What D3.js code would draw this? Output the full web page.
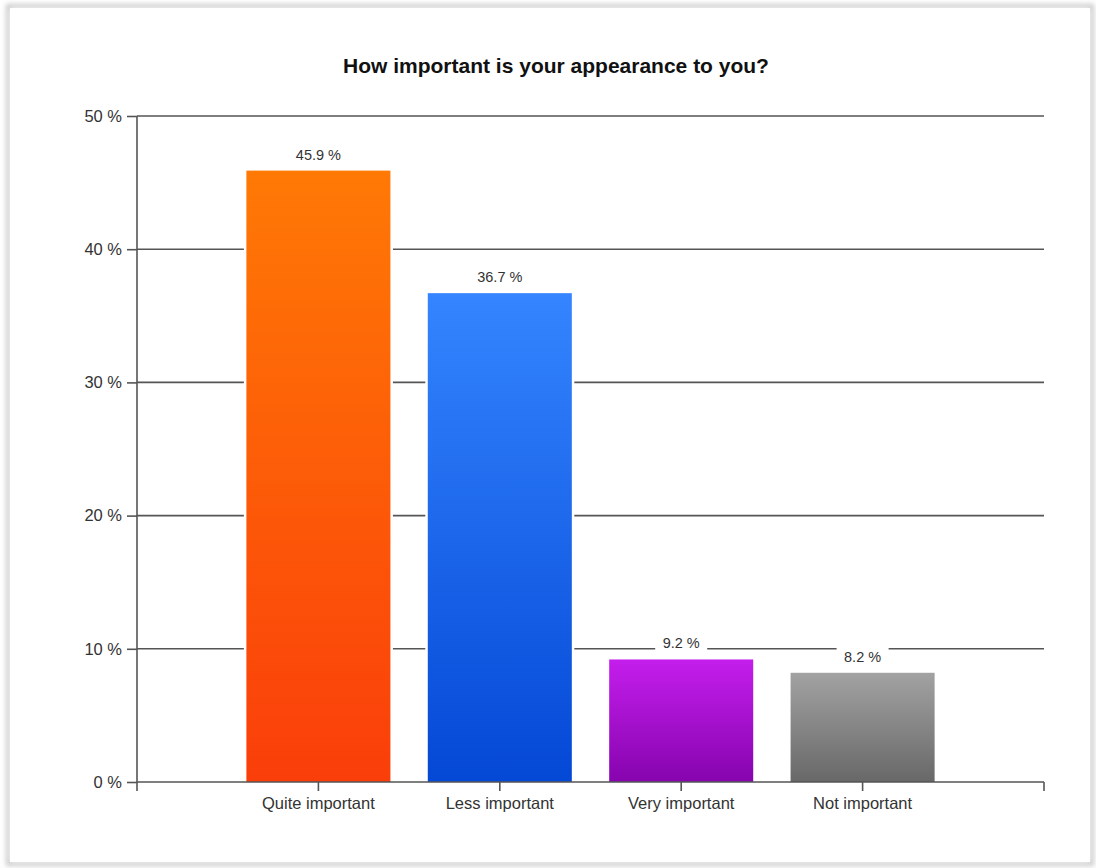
<!DOCTYPE html>
<html>
<head>
<meta charset="utf-8">
<script src="https://cdn.jsdelivr.net/npm/d3@7"></script>
<style>
  html, body { margin: 0; padding: 0; background: #ffffff; }
  svg { display: block; }
  text { font-family: "Liberation Sans", Arial, sans-serif; }
</style>
</head>
<body>
<svg id="chart" width="1096" height="868"></svg>
<script>
// Survey answers and their shares in percent
const categories = ["Quite important", "Less important", "Very important", "Not important"];
const values = [45.9, 36.7, 9.2, 8.2];
const yTicks = [0, 10, 20, 30, 40, 50];
const title = "How important is your appearance to you?";
// gradient stops per bar: [top, bottom]
const barColors = [
  ["#ff7905", "#fa3e0a"],
  ["#3485ff", "#0448d6"],
  ["#c41eec", "#8604ae"],
  ["#a2a2a2", "#686868"]
];

const svg = d3.select("#chart");

// card frame with soft edge shadow
const defs = svg.append("defs");
const sh = defs.append("filter").attr("id", "cardShadow")
  .attr("x", "-5%").attr("y", "-5%").attr("width", "110%").attr("height", "110%");
sh.append("feGaussianBlur").attr("in", "SourceGraphic").attr("stdDeviation", 2.5);

svg.append("rect").attr("x", 8).attr("y", 6).attr("width", 1084).attr("height", 858)
  .attr("fill", "none").attr("stroke", "#c8c8c8").attr("stroke-width", 4)
  .attr("filter", "url(#cardShadow)");
svg.append("rect").attr("x", 10).attr("y", 8).attr("width", 1080).attr("height", 854)
  .attr("fill", "#ffffff");

const plotLeft = 137, plotRight = 1044, plotTop = 116, plotBottom = 782;

const x = d3.scaleBand()
  .domain(categories)
  .range([plotLeft + (plotRight - plotLeft) / 10, plotRight - (plotRight - plotLeft) / 10])
  .paddingInner(0.206)
  .paddingOuter(0.103);

const y = d3.scaleLinear().domain([0, 50]).range([plotBottom, plotTop]);

// gradients
barColors.forEach((c, i) => {
  const g = defs.append("linearGradient").attr("id", "barGrad" + i)
    .attr("x1", 0).attr("y1", 0).attr("x2", 0).attr("y2", 1);
  g.append("stop").attr("offset", "0%").attr("stop-color", c[0]);
  g.append("stop").attr("offset", "100%").attr("stop-color", c[1]);
});

// title
svg.append("text")
  .attr("x", 556).attr("y", 73)
  .attr("text-anchor", "middle")
  .attr("font-size", 21).attr("font-weight", "bold").attr("fill", "#111")
  .text(title);

// horizontal gridlines
svg.append("g").selectAll("line").data(yTicks.filter(d => d > 0)).join("line")
  .attr("x1", plotLeft).attr("x2", plotRight)
  .attr("y1", d => y(d)).attr("y2", d => y(d))
  .attr("stroke", "#555").attr("stroke-width", 1.6);

// y axis
const yAxis = d3.axisLeft(y).tickValues(yTicks).tickSize(10).tickPadding(5)
  .tickFormat(d => d + " %");
const gy = svg.append("g").attr("transform", `translate(${plotLeft},0)`).call(yAxis);
gy.select(".domain").remove();
gy.selectAll(".tick line").attr("stroke", "#555").attr("stroke-width", 1.6);
gy.selectAll(".tick text").attr("font-size", 16.5).attr("fill", "#333")
  .attr("font-family", "'Liberation Sans', Arial, sans-serif");
svg.append("line").attr("x1", plotLeft).attr("x2", plotLeft).attr("y1", plotTop).attr("y2", plotBottom + 9)
  .attr("stroke", "#555").attr("stroke-width", 1.6);

// bars: white halo first so it cuts the gridlines, then the gradient fill
svg.append("g").selectAll("rect").data(categories).join("rect")
  .attr("x", d => x(d))
  .attr("y", (d, i) => y(values[i]))
  .attr("width", x.bandwidth())
  .attr("height", (d, i) => y(0) - y(values[i]))
  .attr("fill", "#ffffff")
  .attr("stroke", "#ffffff").attr("stroke-width", 5);
svg.append("g").selectAll("rect").data(categories).join("rect")
  .attr("x", d => x(d))
  .attr("y", (d, i) => y(values[i]))
  .attr("width", x.bandwidth())
  .attr("height", (d, i) => y(0) - y(values[i]))
  .attr("fill", (d, i) => `url(#barGrad${i})`);

// x axis
const xAxis = d3.axisBottom(x).tickSize(9).tickPadding(6).tickSizeOuter(0);
const gx = svg.append("g").attr("transform", `translate(0,${plotBottom})`).call(xAxis);
gx.select(".domain").remove();
gx.selectAll(".tick line").attr("stroke", "#555").attr("stroke-width", 1.6);
gx.selectAll(".tick text").attr("font-size", 16.5).attr("fill", "#333")
  .attr("font-family", "'Liberation Sans', Arial, sans-serif");
svg.append("line").attr("x1", plotLeft).attr("x2", plotRight).attr("y1", plotBottom).attr("y2", plotBottom)
  .attr("stroke", "#555").attr("stroke-width", 1.6);
svg.append("line").attr("x1", plotRight).attr("x2", plotRight).attr("y1", plotBottom).attr("y2", plotBottom + 9)
  .attr("stroke", "#555").attr("stroke-width", 1.6);

// value labels with white backing that breaks the gridlines
const labels = svg.append("g").selectAll("g").data(categories).join("g")
  .attr("transform", (d, i) => `translate(${x(d) + x.bandwidth() / 2},${y(values[i]) - 11})`);
labels.append("rect")
  .attr("x", -26).attr("y", -14).attr("width", 52).attr("height", 19)
  .attr("fill", "#ffffff");
labels.append("text")
  .attr("text-anchor", "middle")
  .attr("font-size", 14.5).attr("fill", "#333")
  .text((d, i) => values[i].toFixed(1) + " %");
</script>
</body>
</html>
